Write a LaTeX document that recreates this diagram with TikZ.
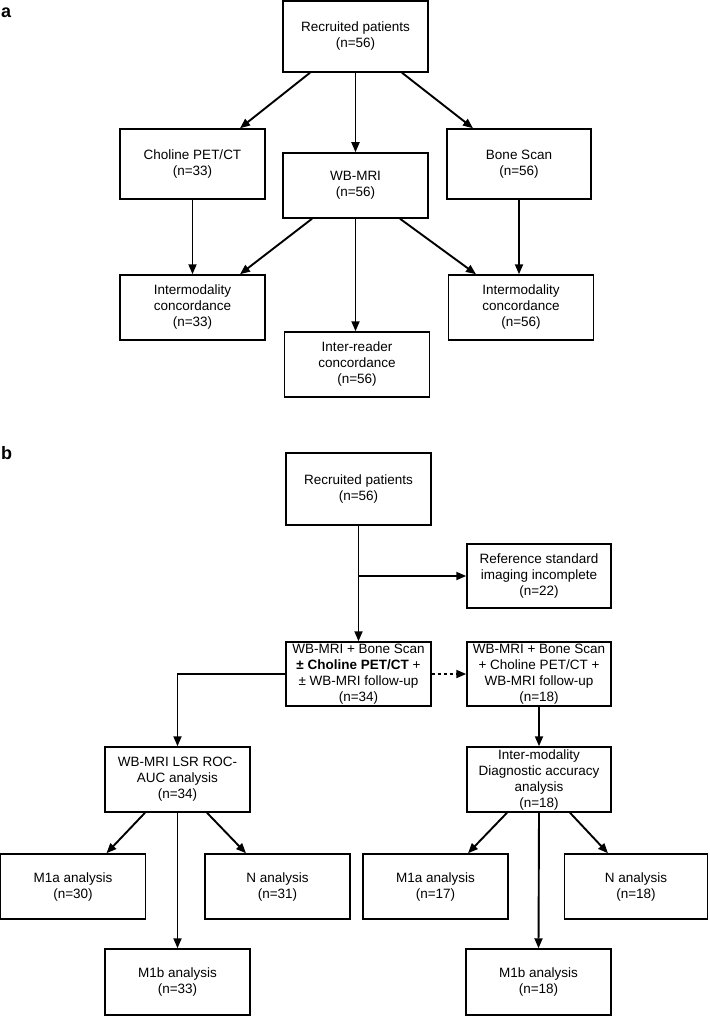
\documentclass[tikz,border=0pt]{standalone}
\usepackage{fontspec}
\setmainfont{Liberation Sans}
\usetikzlibrary{arrows.meta}
\begin{document}
\begin{tikzpicture}[x=1pt,y=-1pt,
  box/.style={draw,line width=1.5pt,minimum width=145pt,minimum height=65pt,align=center,inner sep=1pt,
    font=\fontsize{13.5}{16}\selectfont},
  arr/.style={line width=1.9pt,-{Triangle[length=10pt,width=8pt]}},
  lbl/.style={font=\fontsize{18}{19}\selectfont\bfseries,anchor=west,inner sep=0pt}]
\useasboundingbox (0,0) rectangle (709,1016);
% panel a
\node[lbl] (la) at (1,13) {a};
\node[box,minimum height=71pt] (reca) at (355.5,36.5) {Recruited patients\\(n=56)};
\node[box,minimum height=70pt] (cho) at (192.5,164) {Choline PET/CT\\(n=33)};
\node[box] (wbm) at (355.5,185.5) {WB-MRI\\(n=56)};
\node[box,minimum height=70pt,minimum width=144pt] (bone) at (519,164) {Bone Scan\\(n=56)};
\node[box] (im1) at (192.5,307.5) {Intermodality\\concordance\\(n=33)};
\node[box] (ir) at (357,364.5) {Inter-reader\\concordance\\(n=56)};
\node[box] (im2) at (521,307.5) {Intermodality\\concordance\\(n=56)};
\draw[arr] ([xshift=-45.5pt]reca.south) -- ([xshift=47.5pt]cho.north);
\draw[arr] (reca.south) -- (wbm.north);
\draw[arr] ([xshift=46.5pt]reca.south) -- ([xshift=-46pt]bone.north);
\draw[arr] (cho.south) -- (cho.south |- im1.north);
\draw[arr] ([xshift=-43.5pt]wbm.south) -- ([xshift=47.5pt]im1.north);
\draw[arr] (wbm.south) -- (wbm.south |- ir.north);
\draw[arr] ([xshift=44.5pt]wbm.south) -- ([xshift=-45pt]im2.north);
\draw[arr] (bone.south) -- (bone.south |- im2.north);
% panel b
\node[lbl] (lb) at (1,453) {b};
\node[box,minimum height=72pt] (recb) at (358.5,489) {Recruited patients\\(n=56)};
\node[box,minimum height=64pt,minimum width=144pt] (ref) at (539,576) {Reference standard\\imaging incomplete\\(n=22)};
\node[box,minimum height=64pt] (wbb) at (358.5,674) {WB-MRI + Bone Scan\\\textbf{± Choline PET/CT} +\\± WB-MRI follow-up\\(n=34)};
\node[box,minimum height=64pt,minimum width=144pt] (full) at (539,674) {WB-MRI + Bone Scan\\+ Choline PET/CT +\\WB-MRI follow-up\\(n=18)};
\node[box] (lsr) at (177.5,779.5) {WB-MRI LSR ROC-\\AUC analysis\\(n=34)};
\node[box,minimum width=144pt] (imd) at (539,779.5) {Inter-modality\\Diagnostic accuracy\\analysis\\(n=18)};
\node[box] (m1al) at (73,886.5) {M1a analysis\\(n=30)};
\node[box] (nl) at (277.5,886.5) {N analysis\\(n=31)};
\node[box,minimum height=66pt] (m1bl) at (177.5,982) {M1b analysis\\(n=33)};
\node[box] (m1ar) at (435.5,886.5) {M1a analysis\\(n=17)};
\node[box,minimum width=143pt] (nr) at (636,886.5) {N analysis\\(n=18)};
\node[box,minimum height=66pt] (m1br) at (538.5,982) {M1b analysis\\(n=18)};
\draw[arr] (recb.south) -- (wbb.north);
\draw[arr] (recb.south |- ref.west) -- (ref.west);
\draw[arr,dash pattern=on 3pt off 3pt] (wbb.east) -- (full.west);
\draw[arr] (wbb.west) -- (lsr.north |- wbb.west) -- (lsr.north);
\draw[arr] (full.south) -- (imd.north);
\draw[arr] ([xshift=-32.5pt]lsr.south) -- ([xshift=33.5pt]m1al.north);
\draw[arr] (lsr.south) -- (m1bl.north);
\draw[arr] ([xshift=29.5pt]lsr.south) -- ([xshift=-31.5pt]nl.north);
\draw[arr] ([xshift=-32pt]imd.south) -- ([xshift=32.5pt]m1ar.north);
\draw[arr] (imd.south) -- (m1br.north);
\draw[arr] ([xshift=31pt]imd.south) -- ([xshift=-28pt]nr.north);
\end{tikzpicture}
\end{document}
